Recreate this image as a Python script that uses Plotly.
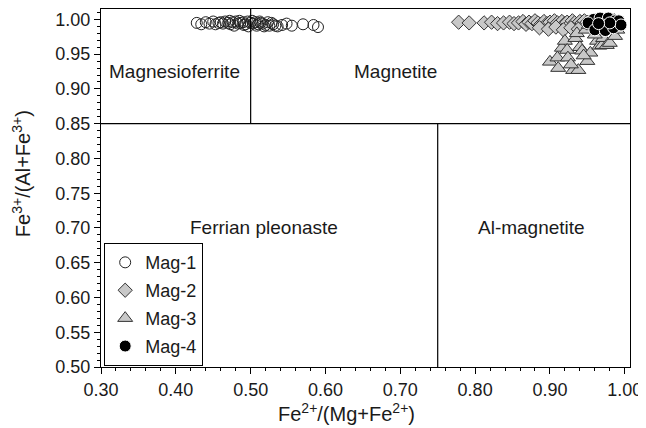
import plotly.graph_objects as go

# ---- data ----
mag1_x = [0.428, 0.434, 0.440, 0.445, 0.450, 0.453, 0.457, 0.460, 0.463, 0.466,
          0.470, 0.473, 0.476, 0.480, 0.483, 0.486, 0.490, 0.493, 0.496, 0.500,
          0.503, 0.506, 0.510, 0.513, 0.516, 0.520, 0.525, 0.530, 0.536, 0.542,
          0.548, 0.555, 0.570, 0.584, 0.590,
          0.472, 0.478, 0.485, 0.491, 0.497, 0.502, 0.508, 0.512, 0.518, 0.523,
          0.528, 0.533]
mag1_y = [0.995, 0.993, 0.996, 0.994, 0.997, 0.993, 0.995, 0.996, 0.994, 0.997,
          0.995, 0.993, 0.996, 0.997, 0.994, 0.995, 0.996, 0.993, 0.997, 0.995,
          0.994, 0.996, 0.993, 0.995, 0.994, 0.992, 0.991, 0.993, 0.990, 0.992,
          0.994, 0.991, 0.993, 0.992, 0.989,
          0.998, 0.991, 0.998, 0.992, 0.990, 0.998, 0.991, 0.997, 0.990, 0.996,
          0.995, 0.991]

mag2_x = [0.778, 0.792, 0.812, 0.822, 0.830, 0.838, 0.846, 0.852, 0.858, 0.864,
          0.868, 0.872, 0.876, 0.880, 0.884, 0.888, 0.892, 0.896, 0.900, 0.903,
          0.906, 0.910, 0.913, 0.916, 0.920, 0.923, 0.926, 0.930, 0.933, 0.936,
          0.940, 0.943, 0.946, 0.950, 0.955, 0.960, 0.966, 0.972, 0.980, 0.986,
          0.886, 0.898, 0.908, 0.918, 0.928, 0.938]
mag2_y = [0.996, 0.995, 0.995, 0.996, 0.994, 0.995, 0.996, 0.994, 0.995, 0.997,
          0.993, 0.996, 0.994, 0.998, 0.995, 0.993, 0.997, 0.994, 0.996, 0.992,
          0.998, 0.995, 0.993, 0.997, 0.994, 0.996, 0.992, 0.998, 0.995, 0.993,
          0.997, 0.995, 0.998, 0.996, 0.997, 0.998, 0.996, 0.998, 0.997, 0.998,
          0.988, 0.986, 0.989, 0.985, 0.988, 0.986]

mag3_x = [0.900, 0.910, 0.911, 0.916, 0.920, 0.923, 0.924, 0.931, 0.934, 0.936,
          0.938, 0.940, 0.943, 0.948, 0.950, 0.954, 0.958, 0.963, 0.966, 0.970,
          0.971, 0.976, 0.980, 0.987, 0.945, 0.952, 0.960, 0.928, 0.990]
mag3_y = [0.939, 0.945, 0.930, 0.959, 0.969, 0.956, 0.945, 0.927, 0.973, 0.980,
          0.927, 0.960, 0.955, 0.985, 0.940, 0.952, 0.990, 0.969, 0.962, 0.963,
          0.973, 0.963, 0.966, 0.976, 0.948, 0.992, 0.978, 0.935, 0.985]

mag4_x = [0.958, 0.967, 0.978, 0.987, 0.951, 0.970, 0.960, 0.974, 0.985, 0.992,
          0.995, 0.980, 0.965]
mag4_y = [1.000, 1.002, 1.002, 0.998, 0.995, 0.992, 0.985, 0.984, 0.988, 0.998,
          0.992, 0.995, 0.994]

# field boundaries
bound_y = 0.85
bound_x_top = 0.50
bound_x_bottom = 0.75
x_range = [0.30, 1.007]
y_range = [0.50, 1.015]

x_ticks = [0.30, 0.40, 0.50, 0.60, 0.70, 0.80, 0.90, 1.00]
y_ticks = [0.50, 0.55, 0.60, 0.65, 0.70, 0.75, 0.80, 0.85, 0.90, 0.95, 1.00]

fields = [("Magnesioferrite", 0.398, 0.925), ("Magnetite", 0.694, 0.925),
          ("Ferrian pleonaste", 0.518, 0.70), ("Al-magnetite", 0.876, 0.70)]

x_title = "Fe<sup>2+</sup>/(Mg+Fe<sup>2+</sup>)"
y_title = "Fe<sup>3+</sup>/(Al+Fe<sup>3+</sup>)"

FONT = "Liberation Sans, Arial, sans-serif"
TXT = "#1a1a1a"

fig = go.Figure()
fig.add_trace(go.Scatter(x=mag1_x, y=mag1_y, mode="markers", name="Mag-1", legendgroup="1",
                         marker=dict(symbol="circle-open", size=11, color="#222222",
                                     line=dict(width=1))))
fig.add_trace(go.Scatter(x=mag2_x, y=mag2_y, mode="markers", name="Mag-2", legendgroup="2",
                         marker=dict(symbol="diamond", size=11, color="#c8c8c8",
                                     line=dict(color="#333333", width=1))))
fig.add_trace(go.Scatter(x=mag3_x, y=mag3_y, mode="markers", name="Mag-3", legendgroup="3",
                         marker=dict(symbol="triangle-up", size=13, color="#c8c8c8",
                                     line=dict(color="#333333", width=1))))
fig.add_trace(go.Scatter(x=mag4_x, y=mag4_y, mode="markers", name="Mag-4", legendgroup="4",
                         marker=dict(symbol="circle", size=12, color="#000000",
                                     line=dict(color="#ffffff", width=1))))

line_style = dict(color="black", width=1.2)
fig.add_shape(type="line", x0=x_range[0], x1=x_range[1], y0=bound_y, y1=bound_y, line=line_style)
fig.add_shape(type="line", x0=bound_x_top, x1=bound_x_top, y0=bound_y, y1=y_range[1], line=line_style)
fig.add_shape(type="line", x0=bound_x_bottom, x1=bound_x_bottom, y0=y_range[0], y1=bound_y, line=line_style)

for txt, fx, fy in fields:
    fig.add_annotation(x=fx, y=fy, text=txt, showarrow=False,
                       font=dict(family=FONT, size=19, color=TXT))

# axis titles
fig.add_annotation(xref="paper", yref="paper", x=0.465, y=-0.126, text=x_title,
                   xanchor="center", yanchor="middle",
                   showarrow=False, font=dict(family=FONT, size=20, color=TXT))
fig.add_annotation(xref="paper", yref="paper", x=-0.151, y=0.539, text=y_title,
                   xanchor="center", yanchor="middle",
                   textangle=-90, showarrow=False, font=dict(family=FONT, size=20, color=TXT))

axis_common = dict(showline=True, linecolor="black", linewidth=1.2, mirror=True,
                   ticks="outside", ticklen=6, tickcolor="black", showgrid=False,
                   zeroline=False, tickfont=dict(family=FONT, size=18, color=TXT))

fig.update_xaxes(range=x_range, tickvals=x_ticks, tickformat=".2f",
                 minor=dict(dtick=0.02, tick0=0.30, ticks="outside", ticklen=3, tickcolor="black"),
                 **axis_common)
fig.update_yaxes(range=y_range, tickvals=y_ticks, tickformat=".2f",
                 minor=dict(dtick=0.01, tick0=0.50, ticks="outside", ticklen=3, tickcolor="black"),
                 **axis_common)

fig.update_layout(
    width=638, height=420,
    margin=dict(l=93, r=16, t=1, b=61),
    paper_bgcolor="white", plot_bgcolor="white",
    showlegend=True,
    legend=dict(x=0.006, y=0.346, xanchor="left", yanchor="top",
                bordercolor="black", borderwidth=1, bgcolor="white",
                font=dict(family=FONT, size=18, color=TXT),
                tracegroupgap=1.5, itemwidth=30),
)

fig.write_html("out.html")
